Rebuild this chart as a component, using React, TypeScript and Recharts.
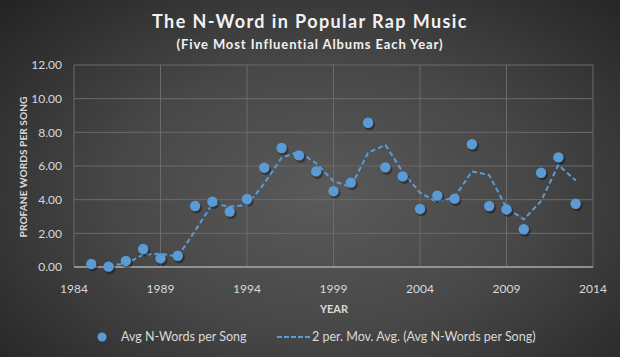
import {
  ComposedChart, Scatter, Line, XAxis, YAxis, CartesianGrid,
} from 'recharts';

// ── data ──────────────────────────────────────────────────────────
const YEARS = [
  1985, 1986, 1987, 1988, 1989, 1990, 1991, 1992, 1993, 1994,
  1995, 1996, 1997, 1998, 1999, 2000, 2001, 2002, 2003, 2004,
  2005, 2006, 2007, 2008, 2009, 2010, 2011, 2012, 2013,
];
const AVG_NWORDS = [
  0.18, 0.02, 0.36, 1.07, 0.51, 0.67, 3.62, 3.88, 3.29, 4.04,
  5.9, 7.07, 6.63, 5.68, 4.51, 5.01, 8.57, 5.92, 5.38, 3.45,
  4.24, 4.06, 7.29, 3.62, 3.42, 2.24, 5.6, 6.51, 3.76,
];
// 2-period moving average, as drawn (first year has none)
const MOV_AVG = [
  null, 0.1, 0.19, 0.74, 0.79, 0.62, 2.15, 3.75, 3.59, 3.67,
  4.97, 6.49, 6.85, 6.16, 5.1, 4.76, 6.79, 7.25, 5.65, 4.42,
  3.85, 4.15, 5.68, 5.46, 3.52, 2.83, 3.92, 6.06, 5.14,
];
const X_TICKS = [1984, 1989, 1994, 1999, 2004, 2009, 2014];
const Y_TICKS = [0, 2, 4, 6, 8, 10, 12];

const BLUE = '#5b9bd5';
const TXT = '#d9d9d9';
const FONT = 'Lato, "Open Sans", sans-serif';

const data = YEARS.map((year, i) => ({ year, avg: AVG_NWORDS[i], ma: MOV_AVG[i] }));

function Dot(props: any) {
  const { cx, cy } = props;
  if (cx == null || cy == null) return null;
  return (
    <g>
      <circle cx={cx + 1.5} cy={cy + 2} r={5.5} fill="#000" opacity={0.35} />
      <circle cx={cx} cy={cy} r={5.2} fill={BLUE} />
    </g>
  );
}

export default function App() {
  return (
    <div
      style={{
        position: 'absolute', left: 0, top: 0, width: 620, height: 357, overflow: 'hidden',
        background: 'radial-gradient(ellipse 75% 85% at 52% 55%, #5a5a5a 0%, #474747 45%, #2a2a2a 85%, #1f1f1f 100%)',
        fontFamily: FONT, color: TXT,
      }}
    >
      <div style={{ position: 'absolute', top: 10, width: 620, textAlign: 'center', fontSize: 18, fontWeight: 700, color: '#f2f2f2', letterSpacing: 1.4 }}>
        The N-Word in Popular Rap Music
      </div>
      <div style={{ position: 'absolute', top: 36, width: 620, textAlign: 'center', fontSize: 13, fontWeight: 700, color: '#f2f2f2', letterSpacing: 0.9 }}>
        (Five Most Influential Albums Each Year)
      </div>

      <ComposedChart
        width={620}
        height={357}
        data={data}
        margin={{ top: 65, right: 27, bottom: 60, left: 24 }}
        style={{ position: 'absolute', left: 0, top: 0 }}
      >
        <CartesianGrid stroke="#6b6b6b" strokeWidth={1} />
        <XAxis
          dataKey="year"
          type="number"
          domain={[1984, 2014]}
          ticks={X_TICKS}
          tickLine={false}
          axisLine={{ stroke: '#a6a6a6', strokeWidth: 1.5 }}
          tickMargin={11}
          tick={{ fill: TXT, fontSize: 12, fontFamily: FONT }}
          interval={0}
        />
        <YAxis
          type="number"
          domain={[0, 12]}
          ticks={Y_TICKS}
          width={50}
          tickLine={false}
          axisLine={false}
          tickMargin={6}
          tickFormatter={(v: number) => v.toFixed(2)}
          tick={{ fill: TXT, fontSize: 12, fontFamily: FONT }}
        />
        <Line
          dataKey="ma"
          type="linear"
          stroke={BLUE}
          strokeWidth={2}
          strokeDasharray="5 3"
          dot={false}
          activeDot={false}
          isAnimationActive={false}
        />
        <Scatter dataKey="avg" shape={<Dot />} isAnimationActive={false} />
      </ComposedChart>

      <div
        style={{
          position: 'absolute', left: 23, top: 167, transform: 'translate(-50%, -50%) rotate(-90deg)',
          fontSize: 10.2, fontWeight: 700, whiteSpace: 'nowrap', color: TXT,
        }}
      >
        PROFANE WORDS PER SONG
      </div>
      <div style={{ position: 'absolute', top: 302, width: 620, left: 24, textAlign: 'center', fontSize: 11, fontWeight: 700, color: TXT }}>
        YEAR
      </div>

      <div style={{ position: 'absolute', top: 329, left: 0, width: 620, height: 16, fontSize: 12.5, color: TXT }}>
        <svg width={12} height={12} style={{ position: 'absolute', left: 96, top: 2 }}>
          <circle cx={6} cy={6} r={4.5} fill={BLUE} />
        </svg>
        <span style={{ position: 'absolute', left: 121, top: 0, whiteSpace: 'nowrap' }}>Avg N-Words per Song</span>
        <svg width={36} height={12} style={{ position: 'absolute', left: 277, top: 2 }}>
          <line x1={0} y1={6} x2={34} y2={6} stroke={BLUE} strokeWidth={2} strokeDasharray="5 2" />
        </svg>
        <span style={{ position: 'absolute', left: 312, top: 0, whiteSpace: 'nowrap' }}>
          2 per. Mov. Avg. (Avg N-Words per Song)
        </span>
      </div>
    </div>
  );
}
